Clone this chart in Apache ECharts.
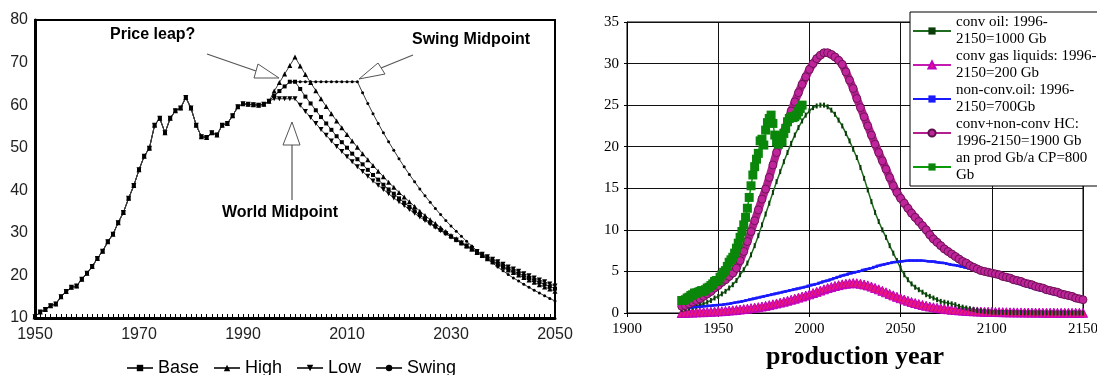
<!DOCTYPE html>
<html>
<head>
<meta charset="utf-8">
<script src="https://cdn.jsdelivr.net/npm/echarts@6/dist/echarts.min.js"></script>
<style>
  html, body { margin: 0; padding: 0; background: #fff; }
  #chart { width: 1097px; height: 375px; }
</style>
</head>
<body>
<div id="chart"></div>
<script>
// ---------- Left panel: oil price scenarios, 1950-2050 ----------
const PRICE_START = 1950;
// 1950-1995, shared by every scenario
const priceHistory = [
  10.3, 11.4, 12.0, 12.9, 13.3, 15.0, 16.2, 17.2, 17.5, 19.1,
  20.5, 22.1, 24.0, 25.7, 27.9, 29.7, 32.4, 34.8, 38.1, 41.1,
  44.8, 48.0, 49.9, 55.3, 56.9, 53.5, 56.9, 58.7, 59.3, 61.8,
  59.3, 55.3, 52.6, 52.4, 53.5, 53.0, 55.3, 55.7, 57.5, 59.6,
  60.3, 60.2, 60.1, 60.0, 60.2, 60.9
];
// 1996-2050
const baseForecast = [
  62.2, 63.3, 64.4, 65.5, 65.5,
  63.8, 62.0, 60.4, 58.8, 57.2, 55.7, 54.2, 52.7, 51.3, 50.0,
  48.6, 47.3, 46.1, 44.8, 43.6, 42.5, 41.3, 40.2, 39.2, 38.1,
  37.1, 36.1, 35.1, 34.2, 33.3, 32.4, 31.5, 30.7, 29.9, 29.1,
  28.3, 27.5, 26.8, 26.1, 25.4, 24.7, 24.1, 23.4, 22.8, 22.2,
  21.6, 21.0, 20.5, 19.9, 19.4, 18.9, 18.4, 17.9, 17.4, 16.9
];
const highForecast = [
  63.3, 65.3, 67.3, 69.3, 71.3,
  69.2, 67.2, 65.3, 63.4, 61.5, 59.7, 58.0, 56.3, 54.7, 53.1,
  51.6, 50.1, 48.6, 47.2, 45.8, 44.5, 43.2, 41.9, 40.7, 39.5,
  38.4, 37.3, 36.2, 35.1, 34.1, 33.1, 32.2, 31.2, 30.3, 29.4,
  28.6, 27.8, 27.0, 26.2, 25.4, 24.7, 23.9, 23.2, 22.6, 21.9,
  21.3, 20.7, 20.1, 19.5, 18.9, 18.4, 17.8, 17.3, 16.8, 16.3
];
const lowForecast = [
  61.5, 61.5, 61.5, 61.5, 61.5,
  60.0, 58.5, 57.1, 55.7, 54.3, 52.9, 51.6, 50.3, 49.1, 47.9,
  46.7, 45.5, 44.4, 43.3, 42.2, 41.2, 40.2, 39.2, 38.2, 37.3,
  36.4, 35.5, 34.6, 33.7, 32.9, 32.1, 31.3, 30.5, 29.8, 29.0,
  28.3, 27.6, 26.9, 26.3, 25.6, 25.0, 24.4, 23.8, 23.2, 22.6,
  22.0, 21.5, 21.0, 20.4, 19.9, 19.4, 18.9, 18.5, 18.0, 17.5
];
const swingForecast = [
  62.2, 63.3, 64.4, 65.5,
  65.5, 65.5, 65.5, 65.5, 65.5, 65.5, 65.5, 65.5, 65.5, 65.5, 65.5, 65.5, 65.5,
  62.9, 60.4, 58.0, 55.7, 53.5, 51.4, 49.4, 47.4, 45.5, 43.7,
  42.0, 40.3, 38.7, 37.2, 35.7, 34.3, 32.9, 31.6, 30.4, 29.2,
  28.0, 26.9, 25.8, 24.8, 23.8, 22.9, 22.0, 21.1, 20.2, 19.4,
  18.7, 17.9, 17.2, 16.5, 15.9, 15.2, 14.6, 14.0
];
const priceYearLabels = [1950, 1970, 1990, 2010, 2030, 2050];

// ---------- Right panel: production curves (Gb/a) ----------
const CURVE_START = 1930, CURVE_STEP = 2;   // 1930, 1932, ... 2150
const convOil = [
  0.4, 0.5, 0.6, 0.7, 0.8,   1.0, 1.1, 1.3, 1.5, 1.8,
  2.0, 2.3, 2.6, 3.0, 3.4,   3.9, 4.6, 5.2, 6.0, 7.0,
  8.1, 9.3, 10.6, 11.9, 13.2, 14.5, 15.8, 17.0, 18.2, 19.3,
  20.4, 21.4, 22.3, 23.1, 23.8, 24.3, 24.7, 24.9, 25.0, 25.0,
  24.8, 24.4, 23.9, 23.2, 22.5, 21.6, 20.7, 19.7, 18.7, 17.5,
  16.2, 14.8, 13.4, 12.1, 11.0, 10.0, 9.1, 8.1, 7.2, 6.3,
  5.4, 4.6, 4.0, 3.5, 3.1,   2.8, 2.5, 2.2, 2.0, 1.8,
  1.6, 1.4, 1.3, 1.2, 1.1,   1.0, 0.8, 0.7, 0.6, 0.5,
  0.4, 0.3, 0.25, 0.2, 0.15, 0.1, 0.1, 0.08, 0.07, 0.06,
  0.05, 0.05, 0.04, 0.04, 0.03, 0.03, 0.03, 0.02, 0.02, 0.02,
  0.02, 0.01, 0.01, 0.01, 0.01, 0.01, 0.01, 0.01, 0.01, 0.01,
  0.01
];
const convGasLiquids = [
  0.0, 0.02, 0.05, 0.05, 0.08, 0.1, 0.1, 0.12, 0.15, 0.18,
  0.2, 0.22, 0.25, 0.3, 0.33, 0.37, 0.42, 0.47, 0.52, 0.58,
  0.64, 0.7, 0.78, 0.86, 0.95, 1.05, 1.15, 1.25, 1.36, 1.48,
  1.6, 1.72, 1.85, 1.98, 2.1, 2.25, 2.4, 2.55, 2.7, 2.85,
  3.0, 3.12, 3.25, 3.35, 3.45, 3.52, 3.57, 3.6, 3.58, 3.52,
  3.43, 3.32, 3.18, 3.02, 2.85, 2.67, 2.49, 2.3, 2.12, 1.95,
  1.78, 1.62, 1.47, 1.33, 1.2, 1.08, 0.97, 0.87, 0.78, 0.7,
  0.63, 0.56, 0.5, 0.45, 0.4, 0.36, 0.32, 0.29, 0.26, 0.23,
  0.21, 0.19, 0.17, 0.15, 0.14, 0.13, 0.12, 0.11, 0.1, 0.09,
  0.08, 0.08, 0.07, 0.07, 0.06, 0.06, 0.05, 0.05, 0.05, 0.04,
  0.04, 0.04, 0.04, 0.03, 0.03, 0.03, 0.03, 0.03, 0.03, 0.02,
  0.02
];
const nonConvOil = [
  0.6, 0.62, 0.65, 0.68, 0.72, 0.76, 0.8, 0.84, 0.88, 0.92,
  0.96, 1.0, 1.06, 1.12, 1.2, 1.28, 1.36, 1.45, 1.55, 1.65,
  1.75, 1.85, 1.95, 2.05, 2.15, 2.25, 2.35, 2.45, 2.55, 2.65,
  2.75, 2.85, 2.95, 3.05, 3.15, 3.3, 3.4, 3.5, 3.65, 3.8,
  3.9, 4.05, 4.2, 4.35, 4.5, 4.6, 4.75, 4.85, 4.95, 5.05,
  5.2, 5.3, 5.4, 5.55, 5.7, 5.8, 5.9, 6.0, 6.1, 6.15,
  6.2, 6.25, 6.3, 6.3, 6.3, 6.3, 6.3, 6.25, 6.2, 6.2,
  6.1, 6.05, 6.0, 5.9, 5.8, 5.75, 5.65, 5.55, 5.45, 5.35,
  5.2, 5.1, 5.0, 4.9, 4.8, 4.65, 4.5, 4.35, 4.2, 4.05,
  3.9, 3.75, 3.6, 3.45, 3.3, 3.15, 3.0, 2.9, 2.75, 2.65,
  2.5, 2.4, 2.25, 2.15, 2.05, 1.95, 1.85, 1.75, 1.65, 1.55,
  1.45
];
const allHydrocarbons = [
  0.8, 0.9, 1.1, 1.3, 1.5, 1.7, 2.0, 2.3, 2.6, 3.0,
  3.3, 3.7, 4.0, 4.4, 4.8, 5.4, 6.3, 7.4, 8.6, 9.8,
  11.1, 12.4, 13.7, 14.9, 16.3, 17.8, 19.3, 20.6, 21.8, 23.0,
  24.3, 25.4, 26.5, 27.5, 28.4, 29.3, 30.0, 30.6, 31.0, 31.3,
  31.3, 31.1, 30.8, 30.4, 29.9, 29.0, 28.0, 27.0, 25.8, 24.7,
  23.6, 22.5, 21.4, 20.3, 19.3, 18.3, 17.3, 16.3, 15.3, 14.5,
  13.8, 13.2, 12.6, 12.0, 11.5, 11.0, 10.5, 10.0, 9.4, 8.9,
  8.5, 8.1, 7.7, 7.4, 7.1, 6.8, 6.5, 6.2, 6.0, 5.7,
  5.5, 5.3, 5.1, 5.0, 4.9, 4.8, 4.7, 4.6, 4.4, 4.3,
  4.2, 4.0, 3.9, 3.8, 3.6, 3.5, 3.4, 3.2, 3.1, 3.0,
  2.8, 2.7, 2.6, 2.5, 2.3, 2.2, 2.1, 2.0, 1.8, 1.7,
  1.6
];
const PROD_START = 1930;   // annual, 1930-1996
const annualProduction = [
  1.5, 1.5, 1.6, 1.8, 1.9, 2.1, 2.2, 2.4, 2.4, 2.5,
  2.6, 2.7, 2.6, 2.8, 3.0, 3.1, 3.3, 3.5, 3.8, 3.9,
  3.9, 4.3, 4.6, 4.9, 5.1, 5.6, 6.1, 6.4, 6.7, 7.2,
  7.8, 8.4, 9.1, 9.8, 10.6, 11.5, 12.6, 13.9, 15.3, 16.6,
  17.6, 18.5, 19.2, 20.7, 20.9, 20.2, 22.0, 22.9, 23.4, 23.8,
  22.8, 21.4, 20.6, 20.3, 20.9, 20.6, 21.6, 22.2, 23.0, 23.4,
  23.6, 23.5, 23.6, 23.8, 24.2, 24.6, 25.0
];

const SERIES_NAMES = {
  convOil: 'conv oil: 1996-2150=1000 Gb',
  gas: 'conv gas liquids: 1996-2150=200 Gb',
  nonConv: 'non-conv.oil: 1996-2150=700Gb',
  all: 'conv+non-conv HC: 1996-2150=1900 Gb',
  prod: 'an prod Gb/a CP=800 Gb'
};
const LEGEND_TEXT = {
  [SERIES_NAMES.convOil]: 'conv oil: 1996-\n2150=1000 Gb',
  [SERIES_NAMES.gas]: 'conv gas liquids: 1996-\n2150=200 Gb',
  [SERIES_NAMES.nonConv]: 'non-conv.oil: 1996-\n2150=700Gb',
  [SERIES_NAMES.all]: 'conv+non-conv HC:\n1996-2150=1900 Gb',
  [SERIES_NAMES.prod]: 'an prod Gb/a CP=800\nGb'
};

// ---------- helpers ----------
function toPairs(start, step, values) {
  return values.map((v, i) => [start + i * step, v]);
}
const yearTicks = [];
for (let y = 1950; y <= 2050; y++) yearTicks.push(y);

const SANS = '"Liberation Sans", Arial, sans-serif';
const SERIF = '"Liberation Serif", "Times New Roman", serif';
const DOWN_TRIANGLE = 'path://M0,0L10,0L5,9Z';
const plainYear = (v) => String(v);

function priceSeries(name, forecast, symbol, size) {
  return {
    name, type: 'line', xAxisIndex: 0, yAxisIndex: 0,
    data: toPairs(PRICE_START, 1, priceHistory.concat(forecast)),
    symbol, symbolSize: size, showAllSymbol: true,
    lineStyle: { color: '#3a3a3a', width: 1 },
    itemStyle: { color: '#000' },
    emphasis: { disabled: true }
  };
}

function curveSeries(name, data, opts) {
  return Object.assign({
    name, type: 'line', xAxisIndex: 1, yAxisIndex: 1,
    data, showAllSymbol: true, emphasis: { disabled: true }
  }, opts);
}

const chart = echarts.init(document.getElementById('chart'), null, { renderer: 'canvas' });

const arrowFill = { fill: '#fff', stroke: '#555', lineWidth: 1 };
const arrowLine = { stroke: '#555', lineWidth: 1.2 };
const noteFont = 'bold 16px ' + SANS;

chart.setOption({
  animation: false,
  backgroundColor: '#fff',
  grid: [
    { left: 35, right: 542, top: 20, bottom: 57, show: true, borderColor: '#000', borderWidth: 2, outerBoundsMode: 'none' },
    { left: 627, right: 14, top: 22, bottom: 62, show: true, borderColor: '#000', borderWidth: 1, outerBoundsMode: 'none' }
  ],
  xAxis: [
    {
      gridIndex: 0, type: 'value', min: 1950, max: 2050,
      axisLine: { onZero: false, lineStyle: { color: '#000', width: 3 } },
      axisTick: { show: true, inside: true, length: 4, customValues: yearTicks, lineStyle: { color: '#000', width: 1 } },
      axisLabel: { customValues: priceYearLabels, formatter: plainYear, fontFamily: SANS, fontSize: 16, color: '#222', margin: 9 },
      splitLine: { show: false }
    },
    {
      gridIndex: 1, type: 'value', min: 1900, max: 2150, interval: 50,
      axisLine: { onZero: false, lineStyle: { color: '#000', width: 1 } },
      axisTick: { show: true, length: 4, lineStyle: { color: '#000' } },
      axisLabel: { formatter: plainYear, fontFamily: SERIF, fontSize: 15, color: '#000', margin: 9 },
      splitLine: { show: true, lineStyle: { color: '#111', width: 1 } },
      name: 'production year', nameLocation: 'middle', nameGap: 31,
      nameTextStyle: { fontFamily: SERIF, fontWeight: 'bold', fontSize: 26, color: '#000' }
    }
  ],
  yAxis: [
    {
      gridIndex: 0, type: 'value', min: 10, max: 80, interval: 10,
      axisLine: { show: true, onZero: false, lineStyle: { color: '#000', width: 3 } },
      axisTick: { show: false },
      axisLabel: { fontFamily: SANS, fontSize: 16, color: '#222', margin: 7 },
      splitLine: { show: false }
    },
    {
      gridIndex: 1, type: 'value', min: 0, max: 35, interval: 5,
      axisLine: { show: true, onZero: false, lineStyle: { color: '#000', width: 1 } },
      axisTick: { show: true, length: 3, lineStyle: { color: '#000' } },
      axisLabel: { fontFamily: SERIF, fontSize: 15, color: '#000', margin: 8 },
      splitLine: { show: true, lineStyle: { color: '#111', width: 1 } }
    }
  ],
  legend: [
    {
      data: ['Base', 'High', 'Low', 'Swing'],
      left: 121, top: 354, itemWidth: 26, itemHeight: 8, itemGap: 14,
      textStyle: { fontFamily: SANS, fontSize: 18, color: '#000' }
    },
    {
      data: [SERIES_NAMES.convOil, SERIES_NAMES.gas, SERIES_NAMES.nonConv, SERIES_NAMES.all, SERIES_NAMES.prod],
      orient: 'vertical', left: 910, top: 12,
      backgroundColor: '#fff', borderColor: '#000', borderWidth: 1,
      padding: [2, 6, 2, 2], itemWidth: 38, itemHeight: 9, itemGap: 0,
      formatter: (name) => LEGEND_TEXT[name],
      textStyle: { fontFamily: SERIF, fontSize: 15, color: '#000', lineHeight: 17 }
    }
  ],
  series: [
    priceSeries('Base', baseForecast, 'rect', 4),
    priceSeries('High', highForecast, 'triangle', 5),
    priceSeries('Low', lowForecast, DOWN_TRIANGLE, 5),
    priceSeries('Swing', swingForecast, 'circle', 3),

    curveSeries(SERIES_NAMES.gas, toPairs(CURVE_START, CURVE_STEP, convGasLiquids), {
      symbol: 'triangle', symbolSize: 9,
      itemStyle: { color: '#e8167c', borderColor: '#c000c0', borderWidth: 1 },
      lineStyle: { color: '#c51bb0', width: 4 }
    }),
    curveSeries(SERIES_NAMES.convOil, toPairs(CURVE_START, CURVE_STEP, convOil), {
      symbol: 'rect', symbolSize: [2, 5],
      itemStyle: { color: '#0b3d0b' },
      lineStyle: { color: '#1f6b1f', width: 1.5 }
    }),
    curveSeries(SERIES_NAMES.nonConv, toPairs(CURVE_START, CURVE_STEP, nonConvOil), {
      symbol: 'rect', symbolSize: [6, 2],
      itemStyle: { color: '#1a1aff' },
      lineStyle: { color: '#1a1aff', width: 2.5 }
    }),
    curveSeries(SERIES_NAMES.all, toPairs(CURVE_START, CURVE_STEP, allHydrocarbons), {
      symbol: 'circle', symbolSize: 8,
      itemStyle: { color: '#c0249a', borderColor: '#5a1048', borderWidth: 0.8 },
      lineStyle: { color: '#b3208e', width: 8 }
    }),
    curveSeries(SERIES_NAMES.prod, toPairs(PROD_START, 1, annualProduction), {
      symbol: 'rect', symbolSize: 9,
      itemStyle: { color: '#0a870a' },
      lineStyle: { color: '#0a9a0a', width: 1.5 }
    })
  ],
  graphic: [
    // "Price leap?" note and its arrow
    { type: 'text', left: 110, top: 27, z: 100, style: { text: 'Price leap?', font: noteFont, fill: '#000' } },
    { type: 'line', z: 100, shape: { x1: 207, y1: 54, x2: 256, y2: 71 }, style: arrowLine },
    { type: 'polygon', z: 100, shape: { points: [[258, 64], [254, 78], [279, 78]] }, style: arrowFill },
    // "Swing Midpoint" note and its arrow
    { type: 'text', left: 412, top: 32, z: 100, style: { text: 'Swing Midpoint', font: noteFont, fill: '#000' } },
    { type: 'line', z: 100, shape: { x1: 413, y1: 55, x2: 381, y2: 68 }, style: arrowLine },
    { type: 'polygon', z: 100, shape: { points: [[378, 63], [385, 74], [359, 79]] }, style: arrowFill },
    // "World Midpoint" note and its arrow
    { type: 'text', left: 222, top: 205, z: 100, style: { text: 'World Midpoint', font: noteFont, fill: '#000' } },
    { type: 'line', z: 100, shape: { x1: 292, y1: 200, x2: 292, y2: 145 }, style: arrowLine },
    { type: 'polygon', z: 100, shape: { points: [[283, 145], [300, 145], [292, 122]] }, style: arrowFill }
  ]
});
</script>
</body>
</html>
